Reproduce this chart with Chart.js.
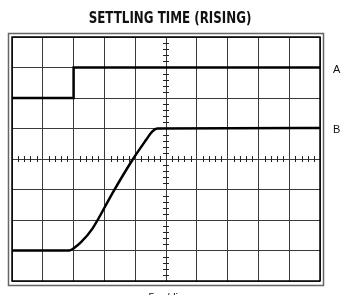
<!DOCTYPE html>
<html>
<head>
<meta charset="utf-8">
<script src="https://cdn.jsdelivr.net/npm/chart.js@4.4.1/dist/chart.umd.min.js"></script>
<style>
  html, body { margin: 0; padding: 0; background: #fff; }
  #wrap { width: 344px; height: 295px; position: relative; }
</style>
</head>
<body>
<div id="wrap"><canvas id="scope" width="344" height="295"></canvas></div>
<script>
// screen in divisions: 10 across, 8 up
const divX = 10;
const divY = 8;

// trace A (input step)
const aX = [0, 2, 2, 10];
const aY = [6, 6, 7, 7];

// trace B (output settling)
const bX = [0, 1.85, 2.0, 2.25, 2.6, 3.3, 3.93, 4.35, 4.55, 4.72, 10];
const bY = [1.0, 1.0, 1.07, 1.28, 1.7, 2.95, 4.0, 4.62, 4.9, 5.0, 5.02];

const traceLabels = ["A", "B"];
const chartTitle = "SETTLING TIME (RISING)";
const timeBase = "5µs/div";

const toPts = (xs, ys) => xs.map((x, i) => ({ x: x, y: ys[i] }));

const scopeDecor = {
  id: "scopeDecor",
  beforeDraw(chart) {
    const { ctx, chartArea: a } = chart;
    ctx.save();
    // outer frame
    ctx.strokeStyle = "#666";
    ctx.lineWidth = 1.5;
    ctx.strokeRect(a.left - 3.5, a.top - 3.5, a.right - a.left + 7, a.bottom - a.top + 8);
    ctx.restore();
  },
  afterDatasetsDraw(chart) {
    const { ctx, chartArea: a, scales } = chart;
    const xs = scales.x, ys = scales.y;
    ctx.save();
    // inner border
    ctx.strokeStyle = "#000";
    ctx.lineWidth = 1.5;
    ctx.strokeRect(a.left, a.top, a.right - a.left, a.bottom - a.top);

    // minor ticks on the centre axes
    ctx.strokeStyle = "#222";
    ctx.lineWidth = 1;
    const cx = xs.getPixelForValue(divX / 2);
    const cy = ys.getPixelForValue(divY / 2);
    ctx.beginPath();
    for (let i = 1; i < divY * 5; i++) {
      if (i % 5 === 0) continue;
      const py = Math.round(ys.getPixelForValue(i / 5)) + 0.5;
      ctx.moveTo(cx - 3, py);
      ctx.lineTo(cx + 3, py);
    }
    for (let i = 1; i < divX * 5; i++) {
      if (i % 5 === 0) continue;
      const px = Math.round(xs.getPixelForValue(i / 5)) + 0.5;
      ctx.moveTo(px, cy - 3);
      ctx.lineTo(px, cy + 3);
    }
    ctx.stroke();

    // texts
    ctx.fillStyle = "#111";
    ctx.save();
    ctx.translate(170, 23);
    ctx.scale(0.88, 1);
    ctx.textAlign = "center";
    ctx.textBaseline = "alphabetic";
    ctx.font = "bold 15px 'Liberation Sans Narrow', 'DejaVu Sans Condensed', sans-serif";
    ctx.fillText(chartTitle, 0, 0);
    ctx.restore();

    ctx.font = "11px 'Liberation Sans', sans-serif";
    ctx.textAlign = "left";
    ctx.textBaseline = "middle";
    ctx.fillText(traceLabels[0], 333, ys.getPixelForValue(aY[aY.length - 1]) + 2);
    ctx.fillText(traceLabels[1], 333, ys.getPixelForValue(bY[bY.length - 1]) + 2);

    ctx.textAlign = "center";
    ctx.textBaseline = "top";
    ctx.fillText(timeBase, cx, 292);
    ctx.restore();
  }
};

new Chart(document.getElementById("scope"), {
  type: "line",
  data: {
    datasets: [
      {
        label: traceLabels[0],
        data: toPts(aX, aY),
        borderColor: "#000",
        borderWidth: 2.5,
        pointRadius: 0,
        tension: 0,
        fill: false
      },
      {
        label: traceLabels[1],
        data: toPts(bX, bY),
        borderColor: "#000",
        borderWidth: 2.5,
        pointRadius: 0,
        cubicInterpolationMode: "monotone",
        fill: false
      }
    ]
  },
  options: {
    responsive: false,
    animation: false,
    layout: { padding: { left: 12, right: 24, top: 37, bottom: 14 } },
    plugins: {
      legend: { display: false },
      title: { display: false },
      tooltip: { enabled: false }
    },
    scales: {
      x: {
        type: "linear",
        min: 0,
        max: divX,
        ticks: { display: false, stepSize: 1 },
        grid: { color: "#3a3a3a", lineWidth: 1, drawTicks: false },
        border: { display: false }
      },
      y: {
        type: "linear",
        min: 0,
        max: divY,
        ticks: { display: false, stepSize: 1 },
        grid: { color: "#3a3a3a", lineWidth: 1, drawTicks: false },
        border: { display: false }
      }
    }
  },
  plugins: [scopeDecor]
});
</script>
</body>
</html>
